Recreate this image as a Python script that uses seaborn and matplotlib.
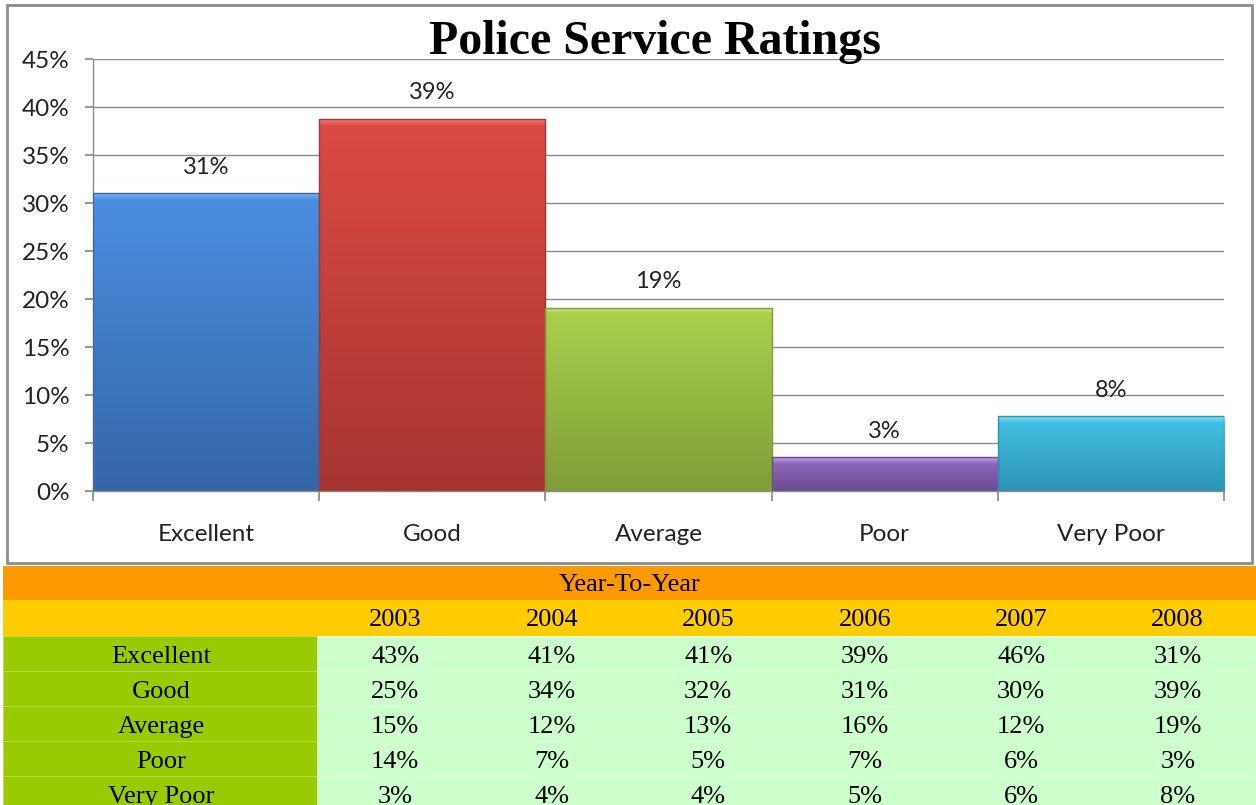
import matplotlib.pyplot as plt
import seaborn as sns
import numpy as np
from matplotlib.colors import LinearSegmentedColormap
from matplotlib.patches import Rectangle

# Données du graphique (2008)
categories = ["Excellent", "Good", "Average", "Poor", "Very Poor"]
bar_values = [31.0, 38.8, 19.1, 3.5, 7.8]

# Tableau année par année
years = ["2003", "2004", "2005", "2006", "2007", "2008"]
excellent = ["43%", "41%", "41%", "39%", "46%", "31%"]
good = ["25%", "34%", "32%", "31%", "30%", "39%"]
average = ["15%", "12%", "13%", "16%", "12%", "19%"]
poor = ["14%", "7%", "5%", "7%", "6%", "3%"]
very_poor = ["3%", "4%", "4%", "5%", "6%", "8%"]
table_rows = [excellent, good, average, poor, very_poor]
bar_labels = [row[-1] for row in table_rows]

# Couleurs (haut clair, bas foncé)
TOP_COLORS = ["#4a8ee0", "#dc4a44", "#a9cf4c", "#8c66ba", "#42bfe2"]
BOTTOM_COLORS = ["#3566a8", "#a63431", "#7f9e37", "#694a90", "#2c93b3"]
HIGHLIGHT = ["#7ab2f0", "#ee8a86", "#cbe68a", "#c6a4ea", "#8ee0f4"]

sns.set_theme(style="white")
plt.rcParams['font.family'] = ['Lato', 'DejaVu Sans']

W, H = 1256, 805
fig = plt.figure(figsize=(W / 100, H / 100), dpi=100)

# Calque de fond (cadre + tableau), coordonnées en pixels
bg = fig.add_axes([0, 0, 1, 1])
bg.set_xlim(0, W)
bg.set_ylim(H, 0)
bg.axis('off')
bg.add_patch(Rectangle((7, 5), 1245, 558, fill=False, edgecolor='#8c8c8c', lw=2))

# Graphique à barres
ax = fig.add_axes([93 / W, 1 - 491 / H, (1224 - 93) / W, (491 - 59) / H])
sns.barplot(x=categories, y=bar_values, hue=categories, palette=TOP_COLORS,
            width=1.0, saturation=1, legend=False, ax=ax)
ax.set_xlim(-0.5, len(categories) - 0.5)
ax.set_ylim(0, 45)

for i, p in enumerate(ax.patches):
    x0, w, h = p.get_x(), p.get_width(), p.get_height()
    f = min(0.7 / h, 0.3)
    cmap = LinearSegmentedColormap.from_list(
        f"bar{i}", [(0, BOTTOM_COLORS[i]), (1 - f, TOP_COLORS[i]), (1, HIGHLIGHT[i])])
    grad = np.linspace(1, 0, 256).reshape(-1, 1)
    im = ax.imshow(grad, cmap=cmap, extent=[x0, x0 + w, 0, h], aspect='auto',
                   origin='upper', zorder=2, vmin=0, vmax=1)
    im.set_clip_path(p)
    p.set_edgecolor(BOTTOM_COLORS[i])
    p.set_linewidth(1)
    p.set_zorder(3)
    p.set_facecolor('none')
    ax.text(x0 + w / 2, h + 2.7, bar_labels[i], ha='center', va='center',
            fontsize=17, color='#222222', zorder=4)

ax.set_yticks(np.arange(0, 46, 5))
ax.set_yticklabels([f"{v}%" for v in range(0, 46, 5)])
ax.yaxis.grid(True, color='#8a8a8a', lw=1)
ax.set_axisbelow(True)
ax.set_xticks(np.arange(-0.5, len(categories), 1.0))
ax.set_xticklabels([])
ax.set_xticks(range(len(categories)), minor=True)
ax.set_xticklabels(categories, minor=True)
ax.tick_params(axis='x', which='major', length=7, color='#8a8a8a', bottom=True)
ax.tick_params(axis='x', which='minor', length=0, pad=24, labelsize=17.5, labelcolor='#222222')
ax.tick_params(axis='y', length=6, color='#8a8a8a', left=True, pad=11, labelsize=17.5,
               labelcolor='#222222')
ax.set_xlabel("")
ax.set_ylabel("")
for s in ['top', 'right']:
    ax.spines[s].set_visible(False)
for s in ['left', 'bottom']:
    ax.spines[s].set_color('#8a8a8a')
    ax.spines[s].set_linewidth(1)

fig.text(655 / W, 1 - 42 / H, "Police Service Ratings", ha='center', va='center',
         fontsize=34.5, fontweight='bold', family='Liberation Serif', color='black')

# Tableau Year-To-Year
col0_end = 317
col_w = (W - col0_end) / len(years)
serif = dict(family='Liberation Serif', fontsize=19, color='black', ha='center', va='center')

bg.add_patch(Rectangle((3, 566), W - 3, 34, color='#ff9900', lw=0))
bg.text(630, 585, "Year-To-Year", **serif)
bg.add_patch(Rectangle((3, 600), W - 3, 36, color='#ffcc00', lw=0))
for j, yr in enumerate(years):
    bg.text(col0_end + col_w * (j + 0.5), 620, yr, **serif)

row_h = 35
y0 = 636
for r, (name, row) in enumerate(zip(categories, table_rows)):
    top = y0 + r * row_h
    bg.add_patch(Rectangle((3, top), col0_end - 3, row_h, facecolor='#99cc00',
                           edgecolor='#b8dc55', lw=0.6))
    bg.add_patch(Rectangle((col0_end, top), W - col0_end, row_h, facecolor='#ccffcc',
                           edgecolor='#e4ffe4', lw=0.6))
    bg.text(col0_end / 2 + 3, top + row_h / 2 + 3, name, **serif)
    for j, val in enumerate(row):
        bg.text(col0_end + col_w * (j + 0.5), top + row_h / 2 + 3, val, **serif)

fig.savefig("out.png", dpi=100)
